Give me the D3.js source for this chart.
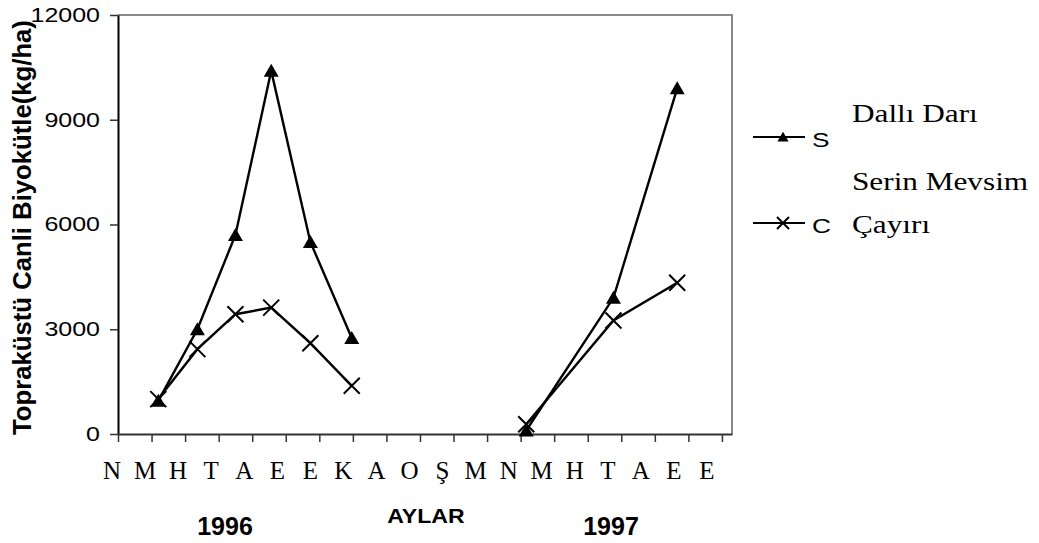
<!DOCTYPE html>
<html>
<head>
<meta charset="utf-8">
<script src="https://cdnjs.cloudflare.com/ajax/libs/d3/7.8.5/d3.min.js"></script>
<style>
body { margin: 0; background: #fff; }
</style>
</head>
<body>
<div id="chart-area"></div>
<script>
// sampling days, counted from the start of the x axis (1996 first, then 1997)
var sampleDays  = [36, 71, 105, 137, 172, 209, 365, 443, 500];
var sampleYear  = ["1996", "1996", "1996", "1996", "1996", "1996", "1997", "1997", "1997"];
var dalliDari   = [950, 3000, 5700, 10400, 5500, 2750, 100, 3900, 9900];
var serinMevsim = [1000, 2430, 3430, 3620, 2600, 1380, 280, 3250, 4330];

var monthLabels = ["N","M","H","T","A","E","E","K","A","O","Ş","M","N","M","H","T","A","E","E"];
var yTicks = [0, 3000, 6000, 9000, 12000];
var xTickStep = 30;
var xMaxDay = 549;
var yearLabels = ["1996", "1997"];
var seriesCodes = ["S", "C"];
var seriesNames = [["Dallı Darı"], ["Serin Mevsim", "Çayırı"]];

var W = 1039, H = 543;
var plot = {left: 118, right: 732, top: 15, bottom: 434};
var sans = "'Liberation Sans', Arial, sans-serif";
var serif = "'Liberation Serif', 'Times New Roman', serif";

var svg = d3.select("#chart-area")
	.append("svg")
		.attr("width", W)
		.attr("height", H)
		.style("background", "#fff");

var x = d3.scaleLinear().domain([0, xMaxDay]).range([plot.left, plot.right]);
var y = d3.scaleLinear().domain([0, 12000]).range([plot.bottom, plot.top]);

// plot area border (grey, top and right)
svg.append("path")
	.attr("d", "M" + plot.left + "," + plot.top + "H" + plot.right + "V" + plot.bottom)
	.attr("fill", "none")
	.attr("stroke", "#888")
	.attr("stroke-width", 2);

// y axis
var yAxis = svg.append("g")
	.attr("transform", "translate(" + plot.left + ",0)")
	.call(d3.axisLeft(y).tickValues(yTicks).tickSize(8).tickSizeOuter(0).tickFormat(d3.format("d")));
yAxis.select(".domain").attr("stroke", "#000").attr("stroke-width", 2);
yAxis.selectAll(".tick line").attr("stroke", "#333").attr("stroke-width", 1.5);
yAxis.selectAll(".tick text")
	.attr("x", 0)
	.attr("transform", "translate(-18,0) scale(1.25,1)")
	.attr("font-family", sans)
	.attr("font-size", "20px")
	.attr("fill", "#000");

// x axis, ticks only
var xAxis = svg.append("g")
	.attr("transform", "translate(0," + plot.bottom + ")")
	.call(d3.axisBottom(x).tickValues(d3.range(0, xMaxDay, xTickStep)).tickSize(8).tickSizeOuter(0).tickFormat(""));
xAxis.select(".domain").attr("stroke", "#333").attr("stroke-width", 2);
xAxis.selectAll(".tick line").attr("stroke", "#333").attr("stroke-width", 1.5);

// month letters under the axis
var m = d3.scalePoint().domain(d3.range(monthLabels.length)).range([112, 707]);
svg.append("g").selectAll("text")
	.data(monthLabels)
	.enter().append("text")
		.attr("transform", function(d, i){ return "translate(" + m(i) + ",479)"; })
		.attr("text-anchor", "middle")
		.attr("font-family", serif)
		.attr("font-size", "25px")
		.text(function(d){ return d; });

// axis titles
svg.append("text")
	.attr("transform", "translate(426,523) scale(1.1,1)")
	.attr("text-anchor", "middle")
	.attr("font-family", sans)
	.attr("font-weight", "bold")
	.attr("font-size", "21px")
	.text("AYLAR");

svg.selectAll(".year")
	.data(yearLabels)
	.enter().append("text")
		.attr("class", "year")
		.attr("transform", function(d, i){ return "translate(" + [225, 611][i] + ",535)"; })
		.attr("text-anchor", "middle")
		.attr("font-family", sans)
		.attr("font-weight", "bold")
		.attr("font-size", "25px")
		.text(function(d){ return d; });

svg.append("text")
	.attr("transform", "translate(31,227.5) rotate(-90)")
	.attr("text-anchor", "middle")
	.attr("font-family", sans)
	.attr("font-weight", "bold")
	.attr("font-size", "25.7px")
	.text("Topraküstü Canli Biyokütle(kg/ha)");

// markers
var triangle = "M0,-7L7.5,6L-7.5,6Z";
var cross = "M-8,-8L8,8M8,-8L-8,8";

var points = sampleDays.map(function(d, i){
	return {day: d, year: sampleYear[i], s: dalliDari[i], c: serinMevsim[i]};
});
var byYear = d3.groups(points, function(d){ return d.year; });

var lineS = d3.line().x(function(d){ return x(d.day); }).y(function(d){ return y(d.s); });
var lineC = d3.line().x(function(d){ return x(d.day); }).y(function(d){ return y(d.c); });

var g = svg.append("g");

byYear.forEach(function(grp){
	g.append("path").attr("d", lineC(grp[1]))
		.attr("fill", "none").attr("stroke", "#000").attr("stroke-width", 2.4);
	g.append("path").attr("d", lineS(grp[1]))
		.attr("fill", "none").attr("stroke", "#000").attr("stroke-width", 2.4);
});

g.selectAll(".mc")
	.data(points)
	.enter().append("path")
		.attr("class", "mc")
		.attr("d", cross)
		.attr("transform", function(d){ return "translate(" + x(d.day) + "," + y(d.c) + ")"; })
		.attr("stroke", "#000")
		.attr("stroke-width", 2);

g.selectAll(".ms")
	.data(points)
	.enter().append("path")
		.attr("class", "ms")
		.attr("d", triangle)
		.attr("transform", function(d){ return "translate(" + x(d.day) + "," + y(d.s) + ")"; })
		.attr("fill", "#000");

// legend
var legY = [137, 223];
var leg = svg.append("g");
seriesCodes.forEach(function(code, i){
	leg.append("line")
		.attr("x1", 753).attr("x2", 805)
		.attr("y1", legY[i]).attr("y2", legY[i])
		.attr("stroke", "#000").attr("stroke-width", 2);
	leg.append("path")
		.attr("d", i == 0 ? triangle : cross)
		.attr("transform", "translate(783," + legY[i] + ") scale(0.75)")
		.attr("fill", "#000")
		.attr("stroke", i == 0 ? "none" : "#000")
		.attr("stroke-width", 2.6);
	leg.append("text")
		.attr("transform", "translate(812," + (legY[i] + 9.5) + ") scale(1.25,1)")
		.attr("font-family", sans)
		.attr("font-size", "21px")
		.text(code);
});

var nameY = [[122], [190, 233]];
seriesNames.forEach(function(lines, i){
	lines.forEach(function(t, j){
		leg.append("text")
			.attr("transform", "translate(852," + nameY[i][j] + ") scale(1.25,1)")
			.attr("font-family", serif)
			.attr("font-size", "25px")
			.text(t);
	});
});
</script>
</body>
</html>
